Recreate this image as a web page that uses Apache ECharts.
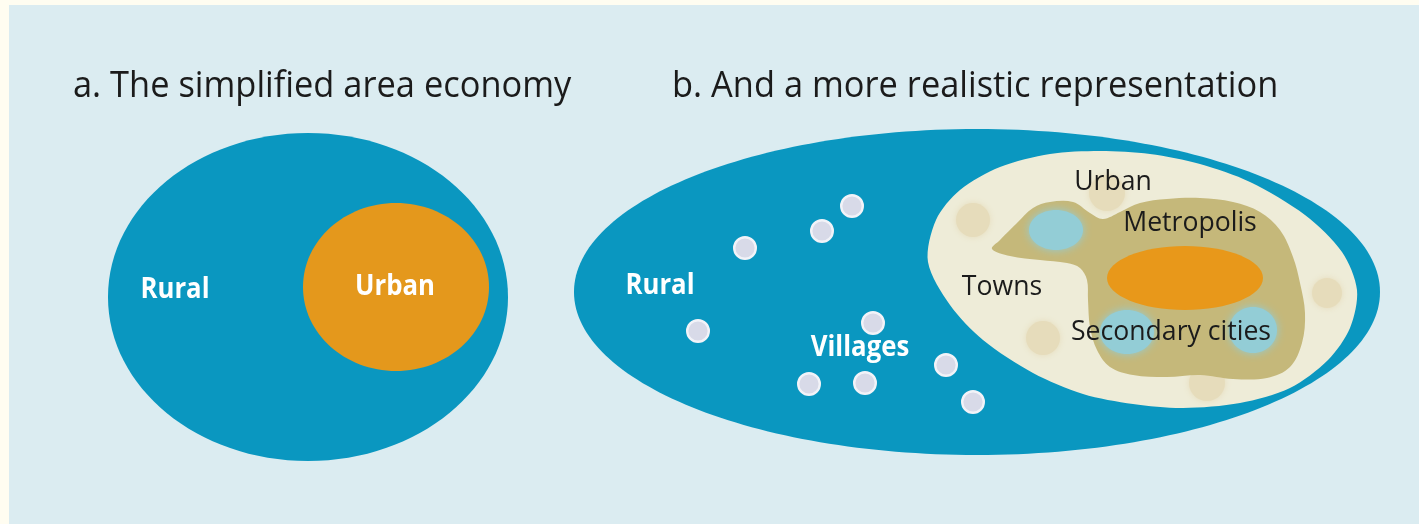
<!DOCTYPE html>
<html>
<head>
<meta charset="utf-8">
<script src="https://cdn.jsdelivr.net/npm/echarts@6/dist/echarts.min.js"></script>
<style>
  html, body { margin: 0; padding: 0; background: #fffdf1; }
  #diagram { width: 1419px; height: 524px; }
</style>
</head>
<body>
<div id="diagram"></div>
<script>
// panel titles
const titles = ['a. The simplified area economy', 'b. And a more realistic representation'];
const titleX = [73, 672];
const titleY = 86;

// zones drawn as ellipses: [cx, cy, rx, ry]
const ruralA = [308, 297, 200, 164];
const urbanA = [396, 287, 93, 84];
const ruralB = [977, 292, 403, 163];
const metropolis = [1185, 278, 78, 32];
const secondaryCities = [[1056, 230, 27, 20], [1127, 332, 27, 22], [1253, 330, 24, 23]];

// urban zone of panel b (outline)
const urbanB = [
    [928, 262], [936, 220], [960, 190], [1000, 167], [1050, 154], [1100, 151],
    [1150, 154], [1200, 164], [1250, 182], [1305, 215], [1342, 252], [1357, 290],
    [1350, 328], [1328, 360], [1290, 388], [1240, 403], [1183, 408], [1133, 404],
    [1083, 394], [1033, 373], [983, 340], [950, 305]
];
// metropolitan area (outline)
const metroArea = [
    [992, 249], [1000, 240], [1017, 223], [1033, 208], [1050, 202], [1073, 202],
    [1090, 213], [1103, 219], [1120, 212], [1140, 203], [1167, 199], [1200, 198],
    [1233, 202], [1260, 212], [1280, 230], [1293, 257], [1300, 283], [1305, 313],
    [1302, 343], [1290, 367], [1267, 378], [1233, 379], [1200, 375], [1167, 377],
    [1133, 375], [1110, 367], [1097, 350], [1090, 327], [1088, 300], [1087, 280],
    [1080, 268], [1067, 263], [1040, 260], [1010, 256]
];

// towns: [x, y, r]
const towns = [[973, 220, 17], [1107, 193, 18], [1043, 338, 17], [1207, 383, 18], [1327, 293, 15]];
// villages: [x, y]
const villages = [[852, 206], [822, 231], [745, 248], [698, 331], [873, 323], [809, 384], [865, 383], [946, 365], [973, 402]];
const villageR = 12;

// labels: [text, x, y]
const whiteLabels = [['Rural', 175, 290], ['Urban', 395, 287], ['Rural', 660, 286], ['Villages', 860, 348]];
const darkLabels = [['Towns', 1002, 287], ['Urban', 1113, 182], ['Metropolis', 1190, 223], ['Secondary cities', 1171, 332]];

const colors = {
    page: '#fffdf1',
    panel: '#dbecf1',
    rural: '#0a97c0',
    urbanA: '#e4981c',
    urbanB: '#eeecd8',
    metroArea: '#c5b87a',
    metropolis: '#e8981a',
    secondary: '#93cdd6',
    town: '#e6dcbb',
    village: '#d8dae8',
    villageEdge: '#f2f3f8',
    dark: '#1b1b1b',
    white: '#ffffff'
};
const font = '"Open Sans", "Noto Sans", sans-serif';

const chart = echarts.init(document.getElementById('diagram'));

function ellipseSeries(rows, fill, z, blur) {
    return {
        type: 'custom',
        z: z,
        silent: true,
        data: rows,
        renderItem: (params, api) => {
            const c = api.coord([api.value(0), api.value(1)]);
            const s = api.size([api.value(2), api.value(3)]);
            return {
                type: 'ellipse',
                shape: { cx: c[0], cy: c[1], rx: s[0], ry: s[1] },
                style: blur ? { fill: fill, shadowBlur: blur, shadowColor: fill } : { fill: fill }
            };
        }
    };
}

function outlineSeries(points, fill, z, smooth) {
    return {
        type: 'custom',
        z: z,
        silent: true,
        data: [[0, 0]],
        renderItem: (params, api) => ({
            type: 'polygon',
            shape: { points: points.map(p => api.coord(p)), smooth: smooth },
            style: { fill: fill }
        })
    };
}

function labelSeries(rows, fill, size, weight, align, scaleX, z) {
    return {
        type: 'custom',
        z: z,
        silent: true,
        data: rows.map(r => [r[1], r[2]]),
        renderItem: (params, api) => {
            const c = api.coord([api.value(0), api.value(1)]);
            return {
                type: 'text',
                x: c[0],
                y: c[1],
                scaleX: scaleX,
                style: {
                    text: rows[params.dataIndex][0],
                    fill: fill,
                    fontSize: size,
                    fontWeight: weight,
                    fontFamily: font,
                    align: align,
                    verticalAlign: 'middle'
                }
            };
        }
    };
}

const option = {
    backgroundColor: colors.page,
    animation: false,
    grid: { left: 0, right: 0, top: 0, bottom: 0 },
    xAxis: { type: 'value', min: 0, max: 1419, show: false },
    yAxis: { type: 'value', min: 0, max: 524, inverse: true, show: false },
    graphic: [{
        type: 'rect',
        z: -10,
        shape: { x: 9, y: 5, width: 1419, height: 524 },
        style: { fill: colors.panel }
    }],
    series: [
        ellipseSeries([ruralA, ruralB], colors.rural, 2),
        ellipseSeries([urbanA], colors.urbanA, 3),
        outlineSeries(urbanB, colors.urbanB, 3, 0.3),
        ellipseSeries(towns.map(t => [t[0], t[1], t[2], t[2]]), colors.town, 4, 6),
        outlineSeries(metroArea, colors.metroArea, 5, 0.35),
        ellipseSeries(secondaryCities, colors.secondary, 6, 8),
        ellipseSeries([metropolis], colors.metropolis, 6),
        {
            type: 'custom',
            z: 6,
            silent: true,
            data: villages,
            renderItem: (params, api) => {
                const c = api.coord([api.value(0), api.value(1)]);
                const r = api.size([villageR, villageR])[0];
                return {
                    type: 'circle',
                    shape: { cx: c[0], cy: c[1], r: r - 1.2 },
                    style: { fill: colors.village, stroke: colors.villageEdge, lineWidth: 2.4 }
                };
            }
        },
        labelSeries(titles.map((t, i) => [t, titleX[i], titleY]), colors.dark, 37, 'normal', 'left', 0.93, 10),
        labelSeries(whiteLabels, colors.white, 28, 'bold', 'center', 0.92, 10),
        labelSeries(darkLabels, colors.dark, 28, 'normal', 'center', 0.95, 10)
    ]
};

chart.setOption(option);
</script>
</body>
</html>
